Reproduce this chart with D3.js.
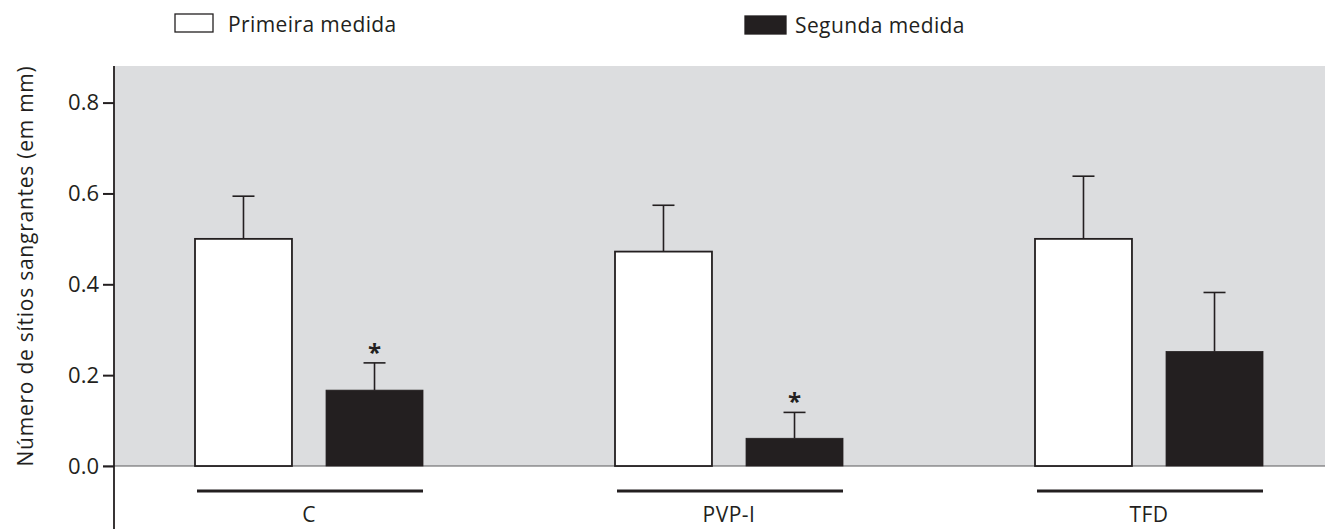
<!DOCTYPE html>
<html>
<head>
<meta charset="utf-8">
<script src="https://cdn.jsdelivr.net/npm/d3@7"></script>
<style>
  html, body { margin: 0; padding: 0; background: #fff; }
  svg { display: block; }
  text { font-family: "Open Sans", "Noto Sans", sans-serif; fill: #231f20; }
</style>
</head>
<body>
<svg id="chart" width="1325" height="529"></svg>
<script>
// Grupos de tratamento
const groups = ["C", "PVP-I", "TFD"];
// Séries (medidas)
const series = ["Primeira medida", "Segunda medida"];
// Médias por grupo
const primeira = [0.50, 0.472, 0.50];
const segunda = [0.167, 0.061, 0.252];
// Limite superior da barra de erro (média + desvio)
const primeiraErr = [0.594, 0.574, 0.638];
const segundaErr = [0.227, 0.118, 0.382];
// Diferença significativa marcada com asterisco
const significant = [[false, true], [false, true], [false, false]];
const yTicks = [0.0, 0.2, 0.4, 0.6, 0.8];
const yLabel = "Número de sítios sangrantes (em mm)";

const ink = "#231f20";
const svg = d3.select("#chart");

const x0 = 114;            // y-axis position
const plotTop = 66;
const plotBottom = 529;

const y = d3.scaleLinear().domain([0, 0.8]).range([466, 102.6]);

const xGroup = d3.scaleBand().domain(groups).range([99, 1359]).padding(0);
const xSeries = d3.scaleBand().domain(series)
  .range([xGroup.bandwidth() / 2 - 114, xGroup.bandwidth() / 2 + 114])
  .paddingInner(0.26).paddingOuter(0);

// grey plot background
svg.append("rect")
  .attr("x", x0).attr("y", plotTop)
  .attr("width", 1325 - x0).attr("height", y(0) - plotTop)
  .attr("fill", "#dcdddf");

// baseline at zero
svg.append("line")
  .attr("x1", 103).attr("x2", 1325)
  .attr("y1", y(0)).attr("y2", y(0))
  .attr("stroke", "#5a5a5c").attr("stroke-width", 1.2);

const rows = groups.map((g, i) => ({
  group: g,
  bars: [
    { s: series[0], v: primeira[i], e: primeiraErr[i], sig: significant[i][0] },
    { s: series[1], v: segunda[i], e: segundaErr[i], sig: significant[i][1] }
  ]
}));

const gG = svg.selectAll("g.grp").data(rows).join("g")
  .attr("class", "grp")
  .attr("transform", d => `translate(${xGroup(d.group)},0)`);

// error bars
gG.selectAll("g.err").data(d => d.bars).join("g").attr("class", "err")
  .each(function(d) {
    const cx = xSeries(d.s) + xSeries.bandwidth() / 2;
    const g = d3.select(this);
    g.append("line").attr("x1", cx).attr("x2", cx)
      .attr("y1", y(d.v)).attr("y2", y(d.e))
      .attr("stroke", ink).attr("stroke-width", 1.6);
    g.append("line").attr("x1", cx - 11).attr("x2", cx + 11)
      .attr("y1", y(d.e)).attr("y2", y(d.e))
      .attr("stroke", ink).attr("stroke-width", 1.6);
    if (d.sig) {
      g.append("text").attr("x", cx).attr("y", y(d.e) - 2)
        .attr("text-anchor", "middle")
        .attr("font-size", 24).attr("font-weight", "bold")
        .text("*");
    }
  });

// bars
gG.selectAll("rect.bar").data(d => d.bars).join("rect")
  .attr("class", "bar")
  .attr("x", d => xSeries(d.s))
  .attr("width", xSeries.bandwidth())
  .attr("y", d => y(d.v))
  .attr("height", d => y(0) - y(d.v))
  .attr("fill", (d, i) => i === 0 ? "#ffffff" : ink)
  .attr("stroke", ink)
  .attr("stroke-width", (d, i) => i === 0 ? 1.8 : 0.8);

// group underline + label
gG.append("line")
  .attr("x1", xSeries(series[0]) + 2)
  .attr("x2", xSeries(series[1]) + xSeries.bandwidth())
  .attr("y1", 491).attr("y2", 491)
  .attr("stroke", ink).attr("stroke-width", 3);
gG.append("text")
  .attr("x", (xSeries(series[0]) + xSeries(series[1]) + xSeries.bandwidth()) / 2)
  .attr("y", 522)
  .attr("text-anchor", "middle")
  .attr("font-size", 21)
  .attr("letter-spacing", 0.5)
  .text(d => d.group);

// y axis
const yAxis = d3.axisLeft(y).tickValues(yTicks).tickFormat(d3.format(".1f"))
  .tickSize(11).tickPadding(4);
const ax = svg.append("g").attr("transform", `translate(${x0},0)`).call(yAxis);
ax.select(".domain").remove();
ax.selectAll(".tick line").attr("stroke", ink).attr("stroke-width", 2);
ax.selectAll(".tick text").attr("font-size", 22).attr("fill", ink)
  .attr("font-family", "'Open Sans', 'Noto Sans', sans-serif");
svg.append("line")
  .attr("x1", x0).attr("x2", x0)
  .attr("y1", plotTop).attr("y2", plotBottom)
  .attr("stroke", ink).attr("stroke-width", 1.8);

// y label
svg.append("text")
  .attr("transform", `translate(33,${(plotTop + y(0)) / 2}) rotate(-90)`)
  .attr("text-anchor", "middle")
  .attr("font-size", 21)
  .attr("letter-spacing", 0.75)
  .text(yLabel);

// legend
const legendX = [175, 745];
series.forEach((s, i) => {
  svg.append("rect")
    .attr("x", legendX[i]).attr("y", i === 0 ? 14 : 16)
    .attr("width", i === 0 ? 38 : 41).attr("height", 18)
    .attr("fill", i === 0 ? "#fff" : ink)
    .attr("stroke", ink).attr("stroke-width", 1.3);
  svg.append("text")
    .attr("x", legendX[i] + (i === 0 ? 53 : 50))
    .attr("y", i === 0 ? 32 : 33)
    .attr("font-size", 21)
    .attr("letter-spacing", 0.4)
    .text(s);
});
</script>
</body>
</html>
